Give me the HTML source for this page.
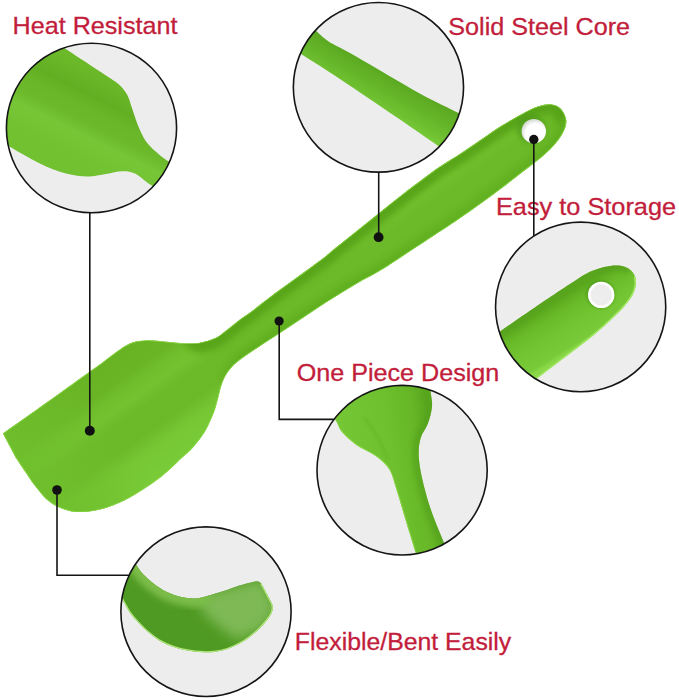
<!DOCTYPE html>
<html><head><meta charset="utf-8">
<style>
html,body{margin:0;padding:0;background:#fff;}
body{width:679px;height:700px;overflow:hidden;position:relative;}
svg{position:absolute;left:0;top:0;display:block}
text{font-family:"Liberation Sans",sans-serif;font-size:23.8px;fill:#c21d3b;stroke:#c21d3b;stroke-width:0.3;}
</style></head>
<body>
<svg width="679" height="700" viewBox="0 0 679 700">
<defs>
<clipPath id="c1"><ellipse cx="91.5" cy="128.0" rx="85.1" ry="84.8"/></clipPath><clipPath id="c2"><ellipse cx="378.45" cy="87.35" rx="85.1" ry="84.8"/></clipPath><clipPath id="c3"><ellipse cx="580.65" cy="306.9" rx="85.1" ry="84.8"/></clipPath><clipPath id="c4"><ellipse cx="402.1" cy="470.2" rx="85.1" ry="84.8"/></clipPath><clipPath id="c5"><ellipse cx="206.0" cy="611.65" rx="85.1" ry="84.8"/></clipPath>
<clipPath id="cm"><path d="M3.0 433.5 C12.5 426.8 50.5 399.8 60.0 393.0 C66.7 388.2 93.3 369.1 100.0 364.3 C103.4 361.7 115.1 352.6 120.6 348.9 C126.1 345.2 128.9 343.7 133.0 342.3 C137.1 340.9 140.6 340.6 145.4 340.4 C150.2 340.2 155.7 340.8 161.9 341.3 C168.1 341.8 176.3 342.9 182.5 343.2 C188.7 343.5 193.5 343.8 199.0 342.9 C204.5 342.0 210.7 340.3 215.5 338.0 C220.3 335.7 223.7 332.3 227.8 329.2 C231.9 326.1 236.2 322.4 240.0 319.5 C243.8 316.6 245.0 316.3 250.7 312.0 C256.4 307.7 266.4 299.7 274.3 293.8 C282.2 287.9 290.0 282.5 297.8 276.8 C305.6 271.1 315.4 264.1 321.4 259.6 C327.4 255.1 327.7 254.4 333.6 249.6 C339.5 244.8 349.1 237.1 357.0 230.8 C364.9 224.5 372.8 218.0 380.7 211.7 C388.6 205.4 396.4 199.1 404.3 193.0 C412.2 186.9 421.9 179.7 427.8 175.3 C433.8 170.9 434.5 170.1 440.0 166.5 C445.5 162.9 453.7 158.0 460.6 153.5 C467.5 149.0 474.3 144.2 481.2 139.5 C488.1 134.8 495.0 129.8 501.9 125.5 C508.8 121.2 516.5 116.9 522.5 113.7 C528.5 110.5 533.2 108.0 538.0 106.5 C542.8 105.0 547.5 104.1 551.3 104.4 C555.0 104.7 558.0 105.9 560.5 108.5 C563.0 111.1 565.7 116.2 566.2 120.0 C566.7 123.8 565.5 127.3 563.7 131.2 C561.9 135.1 559.0 139.5 555.5 143.6 C552.0 147.7 548.5 151.3 543.0 156.0 C537.5 160.7 529.4 166.7 522.5 172.0 C515.6 177.3 508.8 182.8 501.9 188.0 C495.0 193.2 488.1 198.3 481.2 203.3 C474.3 208.3 466.4 213.8 460.6 217.8 C454.8 221.8 451.7 223.9 446.2 227.5 C440.7 231.1 434.8 234.9 427.8 239.5 C420.8 244.1 412.2 249.9 404.3 255.0 C396.4 260.1 388.6 265.6 380.7 270.3 C372.8 275.1 364.9 278.9 357.0 283.5 C349.1 288.1 339.5 294.1 333.6 297.8 C327.7 301.5 327.4 301.6 321.4 305.5 C315.4 309.4 305.6 316.1 297.8 321.3 C290.0 326.5 282.2 331.7 274.3 336.8 C266.4 341.9 256.4 348.4 250.7 352.2 C245.0 356.0 243.0 357.4 240.0 359.8 C237.0 362.2 234.9 363.6 232.5 366.3 C230.1 369.0 227.4 372.4 225.5 375.8 C223.6 379.2 222.3 382.7 221.0 386.8 C219.7 390.9 218.8 396.0 217.5 400.5 C216.2 405.0 215.5 408.7 213.4 413.8 C211.3 418.9 208.6 425.6 205.2 431.3 C201.8 437.0 196.8 443.3 192.8 447.8 C188.9 452.3 186.6 453.6 181.5 458.3 C176.4 463.0 169.6 470.2 162.0 476.2 C154.4 482.1 144.1 489.1 136.0 494.0 C127.9 498.9 120.4 502.5 113.4 505.3 C106.4 508.1 100.5 509.7 94.0 510.8 C87.5 511.9 80.3 512.4 74.5 511.8 C68.7 511.2 63.7 509.4 59.0 507.3 C54.3 505.2 50.8 503.2 46.5 499.3 C42.2 495.4 35.4 486.2 33.2 483.6 C30.4 479.4 19.0 462.5 16.2 458.3 C14.0 454.2 5.2 437.6 3.0 433.5Z"/></clipPath>
<clipPath id="cs5"><path d="M126.0 545.0 C127.8 548.5 134.0 560.9 137.1 566.0 C140.2 571.1 141.6 572.5 144.5 575.6 C147.4 578.7 151.1 581.8 154.8 584.5 C158.5 587.2 162.1 589.7 166.5 591.8 C170.9 593.9 176.4 595.9 181.3 597.0 C186.2 598.1 191.3 598.7 196.0 598.4 C200.7 598.1 204.9 596.5 209.7 595.2 C214.4 593.9 219.6 592.4 224.5 590.8 C229.4 589.2 234.8 587.0 239.2 585.6 C243.6 584.2 247.9 583.1 251.0 582.4 C254.1 581.7 256.3 581.2 258.0 581.4 C259.7 581.6 260.8 583.1 261.3 583.4 C262.3 585.2 265.4 590.9 267.2 594.5 C269.0 598.1 271.4 602.1 272.3 604.8 C273.2 607.5 272.9 608.5 272.3 610.7 C271.7 612.9 270.7 615.1 268.6 618.0 C266.5 620.9 263.0 625.1 259.8 628.3 C256.6 631.5 252.9 634.6 249.5 637.2 C246.1 639.8 242.9 641.8 239.2 643.8 C235.5 645.8 231.6 647.6 227.4 649.0 C223.2 650.4 218.1 651.4 214.1 651.9 C210.1 652.4 207.7 652.4 203.4 652.2 C199.2 652.0 193.5 651.6 188.6 650.7 C183.7 649.8 178.8 648.7 173.9 647.0 C169.0 645.3 163.6 643.0 159.2 640.4 C154.8 637.8 151.1 634.8 147.4 631.6 C143.7 628.4 140.1 624.5 137.1 621.3 C134.1 618.1 132.0 615.8 129.7 612.4 C127.4 609.0 125.5 605.1 123.1 600.7 C120.6 596.3 116.3 588.5 115.0 586.0 C114.2 580.0 110.8 556.0 110.0 550.0 C112.7 549.2 123.3 545.8 126.0 545.0Z"/></clipPath>
<clipPath id="cs4"><path d="M320.0 400.0 C322.5 403.2 331.3 414.0 335.0 419.3 C338.7 424.6 338.4 427.7 342.0 432.0 C345.6 436.3 350.7 440.9 356.4 445.0 C362.1 449.1 370.9 452.3 376.4 456.4 C381.9 460.4 386.0 463.8 389.3 469.3 C392.6 474.8 393.8 481.2 396.4 489.3 C399.0 497.4 401.9 507.7 405.0 517.9 C408.1 528.1 412.3 541.7 415.0 550.7 C417.7 559.7 420.0 568.5 421.0 572.0 C426.8 572.0 450.2 572.0 456.0 572.0 C453.9 567.0 447.8 552.5 443.6 542.0 C439.4 531.5 434.3 520.0 430.7 509.3 C427.1 498.6 424.0 486.9 422.0 477.9 C420.0 468.8 418.9 461.7 418.7 455.0 C418.5 448.3 419.2 443.1 420.7 437.9 C422.2 432.7 426.0 428.9 427.9 423.6 C429.8 418.4 431.5 411.7 432.0 406.4 C432.5 401.1 431.0 396.7 430.7 392.0 C430.4 387.3 430.1 380.3 430.0 378.0 C411.7 378.0 338.3 378.0 320.0 378.0 C320.0 381.7 320.0 396.3 320.0 400.0Z"/></clipPath>
<clipPath id="cs3"><path d="M480.0 345.5 C483.4 343.1 490.4 338.1 500.7 331.0 C511.0 323.9 532.1 309.4 542.0 302.6 C551.9 295.9 554.5 294.1 560.0 290.5 C565.5 286.9 569.8 284.0 574.7 280.9 C579.6 277.8 584.6 274.4 589.5 272.1 C594.4 269.8 599.3 268.0 604.2 266.9 C609.1 265.8 614.7 265.1 618.9 265.5 C623.1 265.9 626.5 267.3 629.2 269.1 C631.9 270.9 634.0 273.8 635.1 276.5 C636.2 279.2 636.3 282.1 635.8 285.3 C635.3 288.5 634.3 292.0 632.2 295.7 C630.1 299.4 626.8 303.5 623.3 307.4 C619.8 311.3 615.9 315.0 611.5 319.2 C607.1 323.4 601.7 328.3 596.8 332.5 C591.9 336.7 588.6 339.2 582.1 344.3 C575.6 349.4 564.7 357.6 557.5 363.0 C550.3 368.4 546.9 371.0 539.0 377.0 C531.1 383.0 514.8 395.3 510.0 399.0 C505.0 399.2 485.0 399.8 480.0 400.0 C480.0 390.9 480.0 354.6 480.0 345.5Z"/></clipPath>
<linearGradient id="gHead" gradientUnits="userSpaceOnUse" x1="100" y1="364" x2="172.5" y2="466"><stop offset="0" stop-color="#68b324"/><stop offset="0.2" stop-color="#69b526"/><stop offset="0.28" stop-color="#70be2c"/><stop offset="0.38" stop-color="#74c230"/><stop offset="0.48" stop-color="#6cb929"/><stop offset="0.66" stop-color="#6bb828"/><stop offset="0.8" stop-color="#77c734"/><stop offset="1" stop-color="#7acb38"/></linearGradient>
<linearGradient id="gTip" gradientUnits="userSpaceOnUse" x1="25" y1="470" x2="106.5" y2="412"><stop offset="0" stop-color="#70bf2d" stop-opacity="0.85"/><stop offset="0.45" stop-color="#70bf2d" stop-opacity="0.6"/><stop offset="1" stop-color="#70bf2d" stop-opacity="0"/></linearGradient>
<linearGradient id="g1" gradientUnits="userSpaceOnUse" x1="105" y1="60" x2="47" y2="176"><stop offset="0.07" stop-color="#6cba2a"/><stop offset="0.2" stop-color="#68b427"/><stop offset="0.29" stop-color="#62af23"/><stop offset="0.38" stop-color="#69b628"/><stop offset="0.5" stop-color="#6cba2b"/><stop offset="0.6" stop-color="#76c637"/><stop offset="0.75" stop-color="#72c232"/><stop offset="1" stop-color="#70c030"/></linearGradient>
<linearGradient id="gBand2" gradientUnits="userSpaceOnUse" x1="390" y1="75" x2="370" y2="110"><stop offset="0" stop-color="#5aa820"/><stop offset="0.45" stop-color="#67b72a"/><stop offset="0.75" stop-color="#70c232"/><stop offset="0.92" stop-color="#78ca38"/><stop offset="1" stop-color="#9ce05a"/></linearGradient>
<linearGradient id="g3" gradientUnits="userSpaceOnUse" x1="550" y1="296" x2="580.7" y2="345.2"><stop offset="0" stop-color="#66b426"/><stop offset="0.12" stop-color="#5aa81e"/><stop offset="0.35" stop-color="#6abb2a"/><stop offset="0.6" stop-color="#72c431"/><stop offset="0.92" stop-color="#78ca38"/><stop offset="1" stop-color="#8ad848"/></linearGradient>
<linearGradient id="g4" gradientUnits="userSpaceOnUse" x1="345" y1="440" x2="445" y2="425"><stop offset="0" stop-color="#74c634"/><stop offset="0.45" stop-color="#6ec02e"/><stop offset="0.7" stop-color="#66b627"/><stop offset="0.85" stop-color="#5aa81f"/><stop offset="1" stop-color="#62b024"/></linearGradient>
<radialGradient id="gHole" gradientUnits="userSpaceOnUse" cx="535.5" cy="133.5" r="14"><stop offset="0.7" stop-color="#fff"/><stop offset="1" stop-color="#d8dcd4"/></radialGradient>
<filter id="b5" x="-50%" y="-50%" width="200%" height="200%"><feGaussianBlur stdDeviation="5"/></filter>
<filter id="b6" x="-50%" y="-50%" width="200%" height="200%"><feGaussianBlur stdDeviation="6"/></filter>
<filter id="b8" x="-50%" y="-50%" width="200%" height="200%"><feGaussianBlur stdDeviation="7"/></filter>
<filter id="b3" x="-20%" y="-20%" width="140%" height="140%"><feGaussianBlur stdDeviation="3"/></filter>
<filter id="b2" x="-50%" y="-50%" width="200%" height="200%"><feGaussianBlur stdDeviation="2"/></filter>
<filter id="b1" x="-50%" y="-50%" width="200%" height="200%"><feGaussianBlur stdDeviation="1"/></filter>
<filter id="b05" x="-20%" y="-20%" width="140%" height="140%"><feGaussianBlur stdDeviation="0.5"/></filter>
</defs>
<rect width="679" height="700" fill="#fff"/>
<g id="main">
<path fill="url(#gHead)" d="M3.0 433.5 C12.5 426.8 50.5 399.8 60.0 393.0 C66.7 388.2 93.3 369.1 100.0 364.3 C103.4 361.7 115.1 352.6 120.6 348.9 C126.1 345.2 128.9 343.7 133.0 342.3 C137.1 340.9 140.6 340.6 145.4 340.4 C150.2 340.2 155.7 340.8 161.9 341.3 C168.1 341.8 176.3 342.9 182.5 343.2 C188.7 343.5 193.5 343.8 199.0 342.9 C204.5 342.0 210.7 340.3 215.5 338.0 C220.3 335.7 223.7 332.3 227.8 329.2 C231.9 326.1 236.2 322.4 240.0 319.5 C243.8 316.6 245.0 316.3 250.7 312.0 C256.4 307.7 266.4 299.7 274.3 293.8 C282.2 287.9 290.0 282.5 297.8 276.8 C305.6 271.1 315.4 264.1 321.4 259.6 C327.4 255.1 327.7 254.4 333.6 249.6 C339.5 244.8 349.1 237.1 357.0 230.8 C364.9 224.5 372.8 218.0 380.7 211.7 C388.6 205.4 396.4 199.1 404.3 193.0 C412.2 186.9 421.9 179.7 427.8 175.3 C433.8 170.9 434.5 170.1 440.0 166.5 C445.5 162.9 453.7 158.0 460.6 153.5 C467.5 149.0 474.3 144.2 481.2 139.5 C488.1 134.8 495.0 129.8 501.9 125.5 C508.8 121.2 516.5 116.9 522.5 113.7 C528.5 110.5 533.2 108.0 538.0 106.5 C542.8 105.0 547.5 104.1 551.3 104.4 C555.0 104.7 558.0 105.9 560.5 108.5 C563.0 111.1 565.7 116.2 566.2 120.0 C566.7 123.8 565.5 127.3 563.7 131.2 C561.9 135.1 559.0 139.5 555.5 143.6 C552.0 147.7 548.5 151.3 543.0 156.0 C537.5 160.7 529.4 166.7 522.5 172.0 C515.6 177.3 508.8 182.8 501.9 188.0 C495.0 193.2 488.1 198.3 481.2 203.3 C474.3 208.3 466.4 213.8 460.6 217.8 C454.8 221.8 451.7 223.9 446.2 227.5 C440.7 231.1 434.8 234.9 427.8 239.5 C420.8 244.1 412.2 249.9 404.3 255.0 C396.4 260.1 388.6 265.6 380.7 270.3 C372.8 275.1 364.9 278.9 357.0 283.5 C349.1 288.1 339.5 294.1 333.6 297.8 C327.7 301.5 327.4 301.6 321.4 305.5 C315.4 309.4 305.6 316.1 297.8 321.3 C290.0 326.5 282.2 331.7 274.3 336.8 C266.4 341.9 256.4 348.4 250.7 352.2 C245.0 356.0 243.0 357.4 240.0 359.8 C237.0 362.2 234.9 363.6 232.5 366.3 C230.1 369.0 227.4 372.4 225.5 375.8 C223.6 379.2 222.3 382.7 221.0 386.8 C219.7 390.9 218.8 396.0 217.5 400.5 C216.2 405.0 215.5 408.7 213.4 413.8 C211.3 418.9 208.6 425.6 205.2 431.3 C201.8 437.0 196.8 443.3 192.8 447.8 C188.9 452.3 186.6 453.6 181.5 458.3 C176.4 463.0 169.6 470.2 162.0 476.2 C154.4 482.1 144.1 489.1 136.0 494.0 C127.9 498.9 120.4 502.5 113.4 505.3 C106.4 508.1 100.5 509.7 94.0 510.8 C87.5 511.9 80.3 512.4 74.5 511.8 C68.7 511.2 63.7 509.4 59.0 507.3 C54.3 505.2 50.8 503.2 46.5 499.3 C42.2 495.4 35.4 486.2 33.2 483.6 C30.4 479.4 19.0 462.5 16.2 458.3 C14.0 454.2 5.2 437.6 3.0 433.5Z"/>
<path fill="url(#gTip)" d="M3.0 433.5 C12.5 426.8 50.5 399.8 60.0 393.0 C66.7 388.2 93.3 369.1 100.0 364.3 C103.4 361.7 115.1 352.6 120.6 348.9 C126.1 345.2 128.9 343.7 133.0 342.3 C137.1 340.9 140.6 340.6 145.4 340.4 C150.2 340.2 155.7 340.8 161.9 341.3 C168.1 341.8 176.3 342.9 182.5 343.2 C188.7 343.5 193.5 343.8 199.0 342.9 C204.5 342.0 210.7 340.3 215.5 338.0 C220.3 335.7 223.7 332.3 227.8 329.2 C231.9 326.1 236.2 322.4 240.0 319.5 C243.8 316.6 245.0 316.3 250.7 312.0 C256.4 307.7 266.4 299.7 274.3 293.8 C282.2 287.9 290.0 282.5 297.8 276.8 C305.6 271.1 315.4 264.1 321.4 259.6 C327.4 255.1 327.7 254.4 333.6 249.6 C339.5 244.8 349.1 237.1 357.0 230.8 C364.9 224.5 372.8 218.0 380.7 211.7 C388.6 205.4 396.4 199.1 404.3 193.0 C412.2 186.9 421.9 179.7 427.8 175.3 C433.8 170.9 434.5 170.1 440.0 166.5 C445.5 162.9 453.7 158.0 460.6 153.5 C467.5 149.0 474.3 144.2 481.2 139.5 C488.1 134.8 495.0 129.8 501.9 125.5 C508.8 121.2 516.5 116.9 522.5 113.7 C528.5 110.5 533.2 108.0 538.0 106.5 C542.8 105.0 547.5 104.1 551.3 104.4 C555.0 104.7 558.0 105.9 560.5 108.5 C563.0 111.1 565.7 116.2 566.2 120.0 C566.7 123.8 565.5 127.3 563.7 131.2 C561.9 135.1 559.0 139.5 555.5 143.6 C552.0 147.7 548.5 151.3 543.0 156.0 C537.5 160.7 529.4 166.7 522.5 172.0 C515.6 177.3 508.8 182.8 501.9 188.0 C495.0 193.2 488.1 198.3 481.2 203.3 C474.3 208.3 466.4 213.8 460.6 217.8 C454.8 221.8 451.7 223.9 446.2 227.5 C440.7 231.1 434.8 234.9 427.8 239.5 C420.8 244.1 412.2 249.9 404.3 255.0 C396.4 260.1 388.6 265.6 380.7 270.3 C372.8 275.1 364.9 278.9 357.0 283.5 C349.1 288.1 339.5 294.1 333.6 297.8 C327.7 301.5 327.4 301.6 321.4 305.5 C315.4 309.4 305.6 316.1 297.8 321.3 C290.0 326.5 282.2 331.7 274.3 336.8 C266.4 341.9 256.4 348.4 250.7 352.2 C245.0 356.0 243.0 357.4 240.0 359.8 C237.0 362.2 234.9 363.6 232.5 366.3 C230.1 369.0 227.4 372.4 225.5 375.8 C223.6 379.2 222.3 382.7 221.0 386.8 C219.7 390.9 218.8 396.0 217.5 400.5 C216.2 405.0 215.5 408.7 213.4 413.8 C211.3 418.9 208.6 425.6 205.2 431.3 C201.8 437.0 196.8 443.3 192.8 447.8 C188.9 452.3 186.6 453.6 181.5 458.3 C176.4 463.0 169.6 470.2 162.0 476.2 C154.4 482.1 144.1 489.1 136.0 494.0 C127.9 498.9 120.4 502.5 113.4 505.3 C106.4 508.1 100.5 509.7 94.0 510.8 C87.5 511.9 80.3 512.4 74.5 511.8 C68.7 511.2 63.7 509.4 59.0 507.3 C54.3 505.2 50.8 503.2 46.5 499.3 C42.2 495.4 35.4 486.2 33.2 483.6 C30.4 479.4 19.0 462.5 16.2 458.3 C14.0 454.2 5.2 437.6 3.0 433.5Z"/>
<g clip-path="url(#cm)">
<path d="M188.0 330.0 C189.8 332.1 194.4 341.6 199.0 342.9 C203.6 344.2 210.7 340.3 215.5 338.0 C220.3 335.7 223.7 332.3 227.8 329.2 C231.9 326.1 236.2 322.4 240.0 319.5 C243.8 316.6 245.0 316.3 250.7 312.0 C256.4 307.7 266.4 299.7 274.3 293.8 C282.2 287.9 290.0 282.5 297.8 276.8 C305.6 271.1 315.4 264.1 321.4 259.6 C327.4 255.1 327.7 254.4 333.6 249.6 C339.5 244.8 349.1 237.1 357.0 230.8 C364.9 224.5 372.8 218.0 380.7 211.7 C388.6 205.4 396.4 199.1 404.3 193.0 C412.2 186.9 421.9 179.7 427.8 175.3 C433.8 170.9 434.5 170.1 440.0 166.5 C445.5 162.9 453.7 158.0 460.6 153.5 C467.5 149.0 474.3 144.2 481.2 139.5 C488.1 134.8 495.0 129.8 501.9 125.5 C508.8 121.2 516.5 116.9 522.5 113.7 C528.5 110.5 533.2 108.0 538.0 106.5 C542.8 105.0 547.5 104.1 551.3 104.4 C555.0 104.7 558.0 105.9 560.5 108.5 C563.0 111.1 565.2 118.1 566.2 120.0" fill="none" stroke="#55a018" stroke-width="20" filter="url(#b3)" opacity="0.85"/>
<path d="M566.2 120.0 C565.8 121.9 565.5 127.3 563.7 131.2 C561.9 135.1 559.0 139.5 555.5 143.6 C552.0 147.7 548.5 151.3 543.0 156.0 C537.5 160.7 529.4 166.7 522.5 172.0 C515.6 177.3 508.8 182.8 501.9 188.0 C495.0 193.2 488.1 198.3 481.2 203.3 C474.3 208.3 466.4 213.8 460.6 217.8 C454.8 221.8 451.7 223.9 446.2 227.5 C440.7 231.1 434.8 234.9 427.8 239.5 C420.8 244.1 412.2 249.9 404.3 255.0 C396.4 260.1 388.6 265.6 380.7 270.3 C372.8 275.1 364.9 278.9 357.0 283.5 C349.1 288.1 339.5 294.1 333.6 297.8 C327.7 301.5 327.4 301.6 321.4 305.5 C315.4 309.4 305.6 316.1 297.8 321.3 C290.0 326.5 282.2 331.7 274.3 336.8 C266.4 341.9 256.4 348.4 250.7 352.2 C245.0 356.0 243.8 355.2 240.0 359.8 C236.2 364.4 230.0 376.6 228.0 380.0" fill="none" stroke="#5cab1e" stroke-width="13" filter="url(#b3)" opacity="0.7"/>
<path d="M3.0 433.5 C12.5 426.8 50.5 399.8 60.0 393.0 C66.7 388.2 93.3 369.1 100.0 364.3 C103.4 361.7 115.1 352.6 120.6 348.9 C126.1 345.2 128.9 343.7 133.0 342.3 C137.1 340.9 140.6 340.6 145.4 340.4 C150.2 340.2 155.7 340.8 161.9 341.3 C168.1 341.8 176.3 342.9 182.5 343.2 C188.7 343.5 193.5 343.8 199.0 342.9 C204.5 342.0 210.7 340.3 215.5 338.0 C220.3 335.7 223.7 332.3 227.8 329.2 C231.9 326.1 236.2 322.4 240.0 319.5 C243.8 316.6 245.0 316.3 250.7 312.0 C256.4 307.7 266.4 299.7 274.3 293.8 C282.2 287.9 290.0 282.5 297.8 276.8 C305.6 271.1 315.4 264.1 321.4 259.6 C327.4 255.1 327.7 254.4 333.6 249.6 C339.5 244.8 349.1 237.1 357.0 230.8 C364.9 224.5 372.8 218.0 380.7 211.7 C388.6 205.4 396.4 199.1 404.3 193.0 C412.2 186.9 421.9 179.7 427.8 175.3 C433.8 170.9 434.5 170.1 440.0 166.5 C445.5 162.9 453.7 158.0 460.6 153.5 C467.5 149.0 474.3 144.2 481.2 139.5 C488.1 134.8 495.0 129.8 501.9 125.5 C508.8 121.2 516.5 116.9 522.5 113.7 C528.5 110.5 533.2 108.0 538.0 106.5 C542.8 105.0 547.5 104.1 551.3 104.4 C555.0 104.7 558.0 105.9 560.5 108.5 C563.0 111.1 565.7 116.2 566.2 120.0 C566.7 123.8 565.5 127.3 563.7 131.2 C561.9 135.1 559.0 139.5 555.5 143.6 C552.0 147.7 548.5 151.3 543.0 156.0 C537.5 160.7 529.4 166.7 522.5 172.0 C515.6 177.3 508.8 182.8 501.9 188.0 C495.0 193.2 488.1 198.3 481.2 203.3 C474.3 208.3 466.4 213.8 460.6 217.8 C454.8 221.8 451.7 223.9 446.2 227.5 C440.7 231.1 434.8 234.9 427.8 239.5 C420.8 244.1 412.2 249.9 404.3 255.0 C396.4 260.1 388.6 265.6 380.7 270.3 C372.8 275.1 364.9 278.9 357.0 283.5 C349.1 288.1 339.5 294.1 333.6 297.8 C327.7 301.5 327.4 301.6 321.4 305.5 C315.4 309.4 305.6 316.1 297.8 321.3 C290.0 326.5 282.2 331.7 274.3 336.8 C266.4 341.9 256.4 348.4 250.7 352.2 C245.0 356.0 243.0 357.4 240.0 359.8 C237.0 362.2 234.9 363.6 232.5 366.3 C230.1 369.0 227.4 372.4 225.5 375.8 C223.6 379.2 222.3 382.7 221.0 386.8 C219.7 390.9 218.8 396.0 217.5 400.5 C216.2 405.0 215.5 408.7 213.4 413.8 C211.3 418.9 208.6 425.6 205.2 431.3 C201.8 437.0 196.8 443.3 192.8 447.8 C188.9 452.3 186.6 453.6 181.5 458.3 C176.4 463.0 169.6 470.2 162.0 476.2 C154.4 482.1 144.1 489.1 136.0 494.0 C127.9 498.9 120.4 502.5 113.4 505.3 C106.4 508.1 100.5 509.7 94.0 510.8 C87.5 511.9 80.3 512.4 74.5 511.8 C68.7 511.2 63.7 509.4 59.0 507.3 C54.3 505.2 50.8 503.2 46.5 499.3 C42.2 495.4 35.4 486.2 33.2 483.6 C30.4 479.4 19.0 462.5 16.2 458.3 C14.0 454.2 5.2 437.6 3.0 433.5Z" fill="none" stroke="#8edb49" stroke-width="1.3" filter="url(#b05)"/>
</g>
<g clip-path="url(#cm)"><circle cx="531" cy="128.3" r="14.5" fill="#4c981a" opacity="0.6" filter="url(#b2)"/></g>
<circle cx="533.8" cy="131.2" r="12.2" fill="url(#gHole)"/>
</g>
<g>
<ellipse cx="91.5" cy="128.0" rx="85.1" ry="84.8" fill="#ededed"/>
<g clip-path="url(#c1)"><path fill="url(#g1)" d="M40.0 33.0 C44.2 35.6 60.8 45.9 65.0 48.5 C72.2 53.2 98.9 70.7 108.0 76.8 C117.1 82.9 116.3 82.0 119.5 85.0 C122.7 88.0 125.2 91.0 127.3 95.0 C129.4 99.0 130.3 103.3 132.3 109.0 C134.3 114.7 136.8 123.1 139.5 129.0 C142.2 134.9 143.9 139.2 148.5 144.5 C153.1 149.8 160.9 156.2 167.0 160.5 C173.1 164.8 182.0 168.8 185.0 170.5 C183.3 175.1 176.7 193.4 175.0 198.0 C171.0 195.8 157.7 189.1 151.0 185.0 C144.3 180.9 139.8 175.8 135.0 173.5 C130.2 171.2 126.8 171.1 122.0 171.2 C117.2 171.3 111.8 173.1 106.0 174.0 C100.2 174.9 94.2 176.5 87.5 176.4 C80.8 176.3 74.0 175.8 66.0 173.6 C58.0 171.4 49.2 167.9 39.8 163.4 C30.3 158.9 14.4 149.3 9.3 146.5 C6.9 145.1 -2.6 139.4 -5.0 138.0 C-5.0 120.5 -5.0 50.5 -5.0 33.0 C2.5 33.0 32.5 33.0 40.0 33.0Z"/></g>
<ellipse cx="91.5" cy="128.0" rx="85.1" ry="84.8" fill="none" stroke="#151515" stroke-width="1.6"/>
</g>
<g>
<ellipse cx="378.45" cy="87.35" rx="85.1" ry="84.8" fill="#ededed"/>
<g clip-path="url(#c2)"><path fill="url(#gBand2)" d="M296.0 14.0 C299.3 16.8 311.1 26.8 315.8 30.8 C320.5 34.8 321.2 35.8 324.0 38.0 C326.8 40.2 328.2 41.3 332.5 43.8 C336.8 46.3 342.9 49.0 350.0 53.0 C357.1 57.0 366.7 62.7 375.1 67.6 C383.5 72.5 391.9 77.5 400.2 82.3 C408.5 87.1 415.5 91.4 425.2 96.5 C434.9 101.6 449.4 108.3 458.5 113.0 C467.6 117.7 476.4 122.6 480.0 124.5 C477.0 130.9 465.0 156.6 462.0 163.0 C457.9 160.1 448.3 153.1 437.5 145.5 C426.7 137.9 413.1 128.5 397.0 117.5 C380.9 106.5 356.9 90.2 341.0 79.7 C325.1 69.2 312.0 61.1 301.8 54.6 C291.6 48.1 283.6 42.9 280.0 40.5 C282.7 36.1 293.3 18.4 296.0 14.0Z"/></g>
<ellipse cx="378.45" cy="87.35" rx="85.1" ry="84.8" fill="none" stroke="#151515" stroke-width="1.6"/>
</g>
<g>
<ellipse cx="580.65" cy="306.9" rx="85.1" ry="84.8" fill="#ededed"/>
<g clip-path="url(#c3)"><path fill="url(#g3)" d="M480.0 345.5 C483.4 343.1 490.4 338.1 500.7 331.0 C511.0 323.9 532.1 309.4 542.0 302.6 C551.9 295.9 554.5 294.1 560.0 290.5 C565.5 286.9 569.8 284.0 574.7 280.9 C579.6 277.8 584.6 274.4 589.5 272.1 C594.4 269.8 599.3 268.0 604.2 266.9 C609.1 265.8 614.7 265.1 618.9 265.5 C623.1 265.9 626.5 267.3 629.2 269.1 C631.9 270.9 634.0 273.8 635.1 276.5 C636.2 279.2 636.3 282.1 635.8 285.3 C635.3 288.5 634.3 292.0 632.2 295.7 C630.1 299.4 626.8 303.5 623.3 307.4 C619.8 311.3 615.9 315.0 611.5 319.2 C607.1 323.4 601.7 328.3 596.8 332.5 C591.9 336.7 588.6 339.2 582.1 344.3 C575.6 349.4 564.7 357.6 557.5 363.0 C550.3 368.4 546.9 371.0 539.0 377.0 C531.1 383.0 514.8 395.3 510.0 399.0 C505.0 399.2 485.0 399.8 480.0 400.0 C480.0 390.9 480.0 354.6 480.0 345.5Z"/>
<g clip-path="url(#cs3)">
<path d="M500.7 331.0 C507.6 326.3 532.1 309.4 542.0 302.6 C551.9 295.9 554.5 294.1 560.0 290.5 C565.5 286.9 569.8 284.0 574.7 280.9 C579.6 277.8 584.6 274.4 589.5 272.1 C594.4 269.8 599.3 268.0 604.2 266.9 C609.1 265.8 614.7 265.1 618.9 265.5 C623.1 265.9 627.5 268.5 629.2 269.1" fill="none" stroke="#559f1c" stroke-width="10" filter="url(#b2)" opacity="0.7"/>
<path d="M635.1 276.5 C635.2 278.0 636.3 282.1 635.8 285.3 C635.3 288.5 634.3 292.0 632.2 295.7 C630.1 299.4 626.8 303.5 623.3 307.4 C619.8 311.3 615.9 315.0 611.5 319.2 C607.1 323.4 601.7 328.3 596.8 332.5 C591.9 336.7 588.6 339.2 582.1 344.3 C575.6 349.4 564.7 357.6 557.5 363.0 C550.3 368.4 546.9 371.0 539.0 377.0 C531.1 383.0 514.8 395.3 510.0 399.0" fill="none" stroke="#a4e868" stroke-width="2.6" filter="url(#b05)"/>
<circle cx="600.6" cy="294.5" r="14.6" fill="#4c981a" opacity="0.55" filter="url(#b1)"/>
</g>
<circle cx="601.2" cy="294.9" r="11.9" fill="#ededed" stroke="#fff" stroke-width="2.6"/></g>
<ellipse cx="580.65" cy="306.9" rx="85.1" ry="84.8" fill="none" stroke="#151515" stroke-width="1.6"/>
</g>
<g>
<ellipse cx="402.1" cy="470.2" rx="85.1" ry="84.8" fill="#ededed"/>
<g clip-path="url(#c4)"><path fill="url(#g4)" d="M320.0 400.0 C322.5 403.2 331.3 414.0 335.0 419.3 C338.7 424.6 338.4 427.7 342.0 432.0 C345.6 436.3 350.7 440.9 356.4 445.0 C362.1 449.1 370.9 452.3 376.4 456.4 C381.9 460.4 386.0 463.8 389.3 469.3 C392.6 474.8 393.8 481.2 396.4 489.3 C399.0 497.4 401.9 507.7 405.0 517.9 C408.1 528.1 412.3 541.7 415.0 550.7 C417.7 559.7 420.0 568.5 421.0 572.0 C426.8 572.0 450.2 572.0 456.0 572.0 C453.9 567.0 447.8 552.5 443.6 542.0 C439.4 531.5 434.3 520.0 430.7 509.3 C427.1 498.6 424.0 486.9 422.0 477.9 C420.0 468.8 418.9 461.7 418.7 455.0 C418.5 448.3 419.2 443.1 420.7 437.9 C422.2 432.7 426.0 428.9 427.9 423.6 C429.8 418.4 431.5 411.7 432.0 406.4 C432.5 401.1 431.0 396.7 430.7 392.0 C430.4 387.3 430.1 380.3 430.0 378.0 C411.7 378.0 338.3 378.0 320.0 378.0 C320.0 381.7 320.0 396.3 320.0 400.0Z"/>
<g clip-path="url(#cs4)">
<path d="M456.0 572.0 C453.9 567.0 447.8 552.5 443.6 542.0 C439.4 531.5 434.3 520.0 430.7 509.3 C427.1 498.6 424.0 486.9 422.0 477.9 C420.0 468.8 418.9 461.7 418.7 455.0 C418.5 448.3 419.2 443.1 420.7 437.9 C422.2 432.7 426.0 428.9 427.9 423.6 C429.8 418.4 431.5 411.7 432.0 406.4 C432.5 401.1 430.9 394.4 430.7 392.0" fill="none" stroke="#55a21c" stroke-width="13" filter="url(#b2)" opacity="0.65"/>
<path d="M364 417 Q376 432 388 459" fill="none" stroke="#64b428" stroke-width="2.5" filter="url(#b1)" opacity="0.5"/>
<path d="M335.0 419.3 C336.2 421.4 338.4 427.7 342.0 432.0 C345.6 436.3 350.7 440.9 356.4 445.0 C362.1 449.1 370.9 452.3 376.4 456.4 C381.9 460.4 386.0 463.8 389.3 469.3 C392.6 474.8 393.8 481.2 396.4 489.3 C399.0 497.4 401.9 507.7 405.0 517.9 C408.1 528.1 413.3 545.2 415.0 550.7" fill="none" stroke="#8cd84a" stroke-width="1.6" filter="url(#b05)"/>
</g></g>
<ellipse cx="402.1" cy="470.2" rx="85.1" ry="84.8" fill="none" stroke="#151515" stroke-width="1.6"/>
</g>
<g>
<ellipse cx="206.0" cy="611.65" rx="85.1" ry="84.8" fill="#ededed"/>
<g clip-path="url(#c5)"><path fill="#4f9a22" d="M126.0 545.0 C127.8 548.5 134.0 560.9 137.1 566.0 C140.2 571.1 141.6 572.5 144.5 575.6 C147.4 578.7 151.1 581.8 154.8 584.5 C158.5 587.2 162.1 589.7 166.5 591.8 C170.9 593.9 176.4 595.9 181.3 597.0 C186.2 598.1 191.3 598.7 196.0 598.4 C200.7 598.1 204.9 596.5 209.7 595.2 C214.4 593.9 219.6 592.4 224.5 590.8 C229.4 589.2 234.8 587.0 239.2 585.6 C243.6 584.2 247.9 583.1 251.0 582.4 C254.1 581.7 256.3 581.2 258.0 581.4 C259.7 581.6 260.8 583.1 261.3 583.4 C262.3 585.2 265.4 590.9 267.2 594.5 C269.0 598.1 271.4 602.1 272.3 604.8 C273.2 607.5 272.9 608.5 272.3 610.7 C271.7 612.9 270.7 615.1 268.6 618.0 C266.5 620.9 263.0 625.1 259.8 628.3 C256.6 631.5 252.9 634.6 249.5 637.2 C246.1 639.8 242.9 641.8 239.2 643.8 C235.5 645.8 231.6 647.6 227.4 649.0 C223.2 650.4 218.1 651.4 214.1 651.9 C210.1 652.4 207.7 652.4 203.4 652.2 C199.2 652.0 193.5 651.6 188.6 650.7 C183.7 649.8 178.8 648.7 173.9 647.0 C169.0 645.3 163.6 643.0 159.2 640.4 C154.8 637.8 151.1 634.8 147.4 631.6 C143.7 628.4 140.1 624.5 137.1 621.3 C134.1 618.1 132.0 615.8 129.7 612.4 C127.4 609.0 125.5 605.1 123.1 600.7 C120.6 596.3 116.3 588.5 115.0 586.0 C114.2 580.0 110.8 556.0 110.0 550.0 C112.7 549.2 123.3 545.8 126.0 545.0Z"/>
<g clip-path="url(#cs5)">
<path d="M196 596 L262 579 L276 607 L264 628 L238 640 L218 626 L203 612 Z" fill="#7eb954" filter="url(#b6)"/>
<path d="M126.0 545.0 C127.8 548.5 134.0 560.9 137.1 566.0 C140.2 571.1 141.6 572.5 144.5 575.6 C147.4 578.7 151.1 581.8 154.8 584.5 C158.5 587.2 162.1 589.7 166.5 591.8 C170.9 593.9 176.4 595.9 181.3 597.0 C186.2 598.1 191.3 598.7 196.0 598.4 C200.7 598.1 207.4 595.7 209.7 595.2" fill="none" stroke="#7cbd4a" stroke-width="17" filter="url(#b3)"/>
<path d="M261.3 583.4 C262.3 585.2 265.4 590.9 267.2 594.5 C269.0 598.1 271.4 602.1 272.3 604.8 C273.2 607.5 272.9 608.5 272.3 610.7 C271.7 612.9 270.7 615.1 268.6 618.0 C266.5 620.9 263.0 625.1 259.8 628.3 C256.6 631.5 252.9 634.6 249.5 637.2 C246.1 639.8 242.9 641.8 239.2 643.8 C235.5 645.8 231.6 647.6 227.4 649.0 C223.2 650.4 218.1 651.4 214.1 651.9 C210.1 652.4 207.7 652.4 203.4 652.2 C199.2 652.0 193.5 651.6 188.6 650.7 C183.7 649.8 178.8 648.7 173.9 647.0 C169.0 645.3 163.6 643.0 159.2 640.4 C154.8 637.8 151.1 634.8 147.4 631.6 C143.7 628.4 140.1 624.5 137.1 621.3 C134.1 618.1 132.0 615.8 129.7 612.4 C127.4 609.0 125.5 605.1 123.1 600.7 C120.6 596.3 116.3 588.5 115.0 586.0" fill="none" stroke="#b4ea7c" stroke-width="2.2" filter="url(#b05)"/>
</g></g>
<ellipse cx="206.0" cy="611.65" rx="85.1" ry="84.8" fill="none" stroke="#151515" stroke-width="1.6"/>
</g>
<text transform="translate(12.59,33.5) scale(1.056,1)">Heat Resistant</text>
<text transform="translate(448.34,34.5) scale(1.057,1)">Solid Steel Core</text>
<text transform="translate(495.97,215.3) scale(1.064,1)">Easy to Storage</text>
<text transform="translate(296.64,381.4) scale(1.057,1)">One Piece Design</text>
<text transform="translate(294.81,649.5) scale(1.043,1)">Flexible/Bent Easily</text>
<g stroke="#151515" stroke-width="1.6" fill="none">
<path d="M89.8 212.8 L89.8 430"/>
<path d="M57 490 L57 575.3 L129 575.3"/>
<path d="M279.2 321 L279.2 419.4 L334 419.4"/>
<path d="M378.7 172 L378.7 238"/>
<path d="M533.8 140 L533.8 236"/>
</g>
<g fill="#111">
<circle cx="89.8" cy="430.7" r="5"/>
<circle cx="57" cy="490" r="4.8"/>
<circle cx="279.1" cy="321" r="4.6"/>
<circle cx="378.6" cy="237.2" r="4.9"/>
<circle cx="533.8" cy="139.5" r="4.7"/>
</g>
</svg>
</body></html>
